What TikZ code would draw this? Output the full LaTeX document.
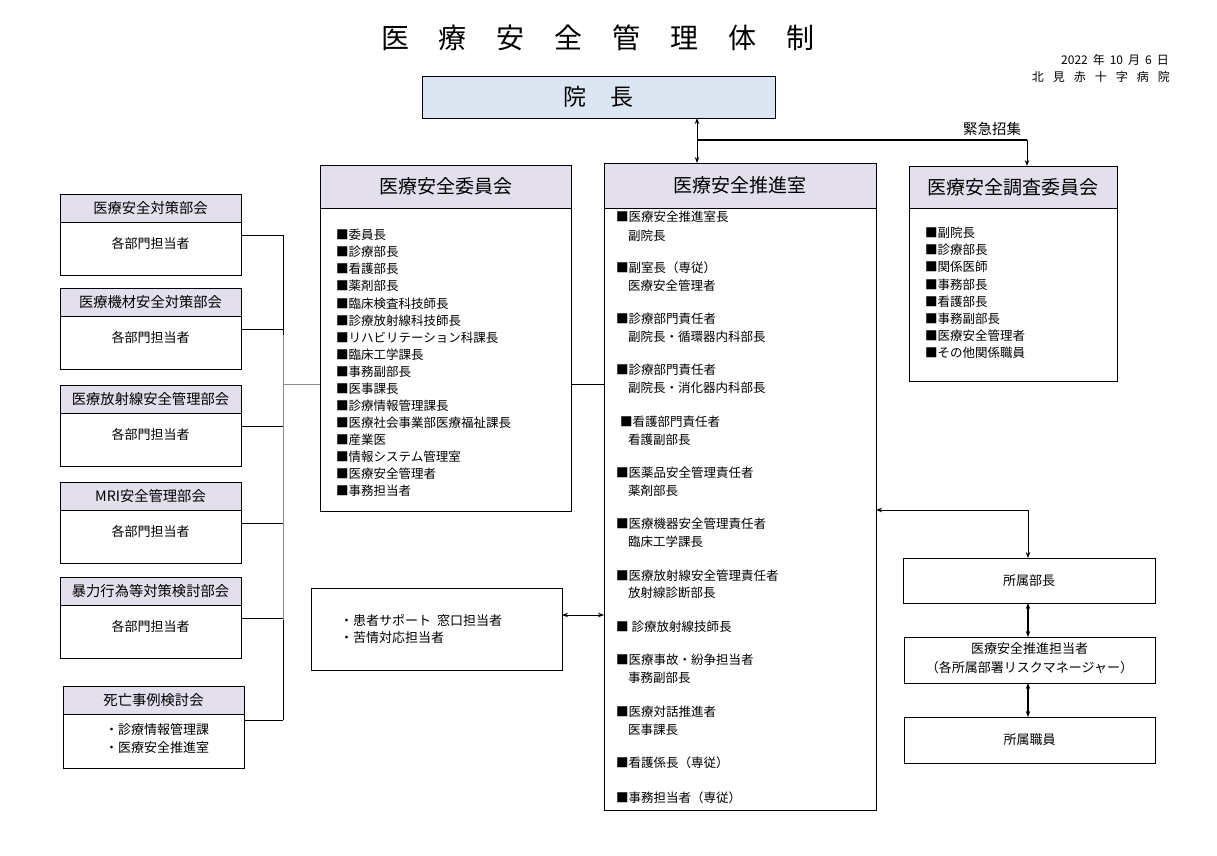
\documentclass[tikz,border=0pt]{standalone}
\usepackage{fontspec}
\setmainfont{Noto Sans CJK JP}
\usetikzlibrary{arrows.meta}
\definecolor{hdrc}{HTML}{E4DFEC}
\definecolor{inchoc}{HTML}{DCE6F2}
\definecolor{busgray}{HTML}{8C8C8C}
\begin{document}
\begin{tikzpicture}[x=1pt,y=-1pt,>={Stealth[length=6pt,width=4.5pt]}]
\tikzset{
 box/.style={draw, line width=0.9pt, inner sep=0, outer sep=0, anchor=north west},
 hdr/.style={box, fill=hdrc},
 txt/.style={inner sep=0},
 fA/.style={font=\fontsize{28}{28}\selectfont, text height=24.64pt, text depth=3.36pt},
 fB/.style={font=\fontsize{23}{23}\selectfont, text height=20.24pt, text depth=2.76pt},
 hfont/.style={font=\fontsize{19}{19}\selectfont, text height=16.72pt, text depth=2.28pt},
 fK/.style={font=\fontsize{14.5}{14.5}\selectfont, text height=12.76pt, text depth=1.74pt},
 sfont/.style={font=\fontsize{14.3}{14.3}\selectfont, text height=12.58pt, text depth=1.72pt},
 bfont/.style={font=\fontsize{13}{13}\selectfont, text height=11.44pt, text depth=1.56pt},
 fD/.style={font=\fontsize{12}{12}\selectfont, text height=10.56pt, text depth=1.44pt},
 lst/.style={txt, anchor=west, font=\fontsize{12.5}{15}\selectfont, text height=11pt, text depth=1.5pt},
 conn/.style={line width=0.8pt},
}
\fill[white] (0,0) rectangle (1217,855);
\useasboundingbox (0,0) rectangle (1217,855);

% title
\foreach \c [count=\i from 0] in {医,療,安,全,管,理,体,制}
  \node[txt, fA] (title\i) at ({395+57.9*\i},38) {\c};

% date
\node[txt, anchor=east, fD] (date) at (1169,60) {2022\hspace{5pt}年\hspace{5pt}10\hspace{5pt}月\hspace{5pt}6\hspace{5pt}日};
\node[txt, anchor=east, fD] (hosp) at (1170,77) {北\hspace{9pt}見\hspace{9pt}赤\hspace{9pt}十\hspace{9pt}字\hspace{9pt}病\hspace{9pt}院};

% 院長
\node[box, fill=inchoc, minimum width=353, minimum height=42, fB] (incho) at (422,76) {院\hspace{24pt}長};

% 医療安全委員会
\node[box, minimum width=251, minimum height=346] (iinkai) at (320,165) {};
\node[hdr, minimum width=251, minimum height=43, hfont] (iinkaih) at (320,165) {医療安全委員会};
\foreach \t [count=\i from 0] in {委員長,診療部長,看護部長,薬剤部長,臨床検査科技師長,診療放射線科技師長,リハビリテーション科課長,臨床工学課長,事務副部長,医事課長,診療情報管理課長,医療社会事業部医療福祉課長,産業医,情報システム管理室,医療安全管理者,事務担当者}
  \node[lst] (ii\i) at (336,{235+17.07*\i}) {■\t};

% 医療安全推進室
\node[box, minimum width=272, minimum height=647] (suishin) at (604,163) {};
\node[hdr, minimum width=272, minimum height=45, hfont] (suishinh) at (604,163) {医療安全推進室};
\foreach \x/\y/\t [count=\i] in {616/217/■医療安全推進室長, 628/236/副院長,
  616/268/■副室長（専従）, 628/286/医療安全管理者,
  616/319/■診療部門責任者, 628/337/副院長・循環器内科部長,
  616/370/■診療部門責任者, 628/388/副院長・消化器内科部長,
  620/422/■看護部門責任者, 628/440/看護副部長,
  616/473/■医薬品安全管理責任者, 628/491/薬剤部長,
  616/524/■医療機器安全管理責任者, 628/542/臨床工学課長,
  616/576/■医療放射線安全管理責任者, 628/593/放射線診断部長,
  616/627/■ 診療放射線技師長,
  616/660/■医療事故・紛争担当者, 628/678/事務副部長,
  616/712/■医療対話推進者, 628/730/医事課長,
  616/763/■看護係長（専従）,
  616/798/■事務担当者（専従）}
  \node[lst] (si\i) at (\x,\y) {\t};

% 医療安全調査委員会
\node[box, minimum width=208, minimum height=215] (chosa) at (909,166) {};
\node[hdr, minimum width=208, minimum height=42, hfont] (chosah) at (909,166) {医療安全調査委員会};
\foreach \t [count=\i from 0] in {副院長,診療部長,関係医師,事務部長,看護部長,事務副部長,医療安全管理者,その他関係職員}
  \node[lst] (ci\i) at (925,{233+17.1*\i}) {■\t};

% left boxes
\foreach \y/\t/\n in {194/医療安全対策部会/1, 288/医療機材安全対策部会/2, 385/医療放射線安全管理部会/3, 482/MRI安全管理部会/4, 577/暴力行為等対策検討部会/5}{
  \node[box, minimum width=181, minimum height=81] (L\n) at (60,\y) {};
  \node[hdr, minimum width=181, minimum height=28, sfont] (L\n h) at (60,\y) {\t};
  \node[txt, bfont] (L\n b) at (150.5,{\y+50}) {各部門担当者};
  \coordinate (bus\n) at (283,{\y+41});
  \draw[conn] (L\n.east |- bus\n) -- (bus\n);
}
\node[box, minimum width=181, minimum height=82] (L6) at (63,686) {};
\node[hdr, minimum width=181, minimum height=28, sfont] (L6h) at (63,686) {死亡事例検討会};
\node[txt, bfont, anchor=west] (L6a) at (105,730) {・診療情報管理課};
\node[txt, bfont, anchor=west] (L6b) at (105,748) {・医療安全推進室};
\coordinate (bus6) at (283,720);
\draw[conn] (L6.east |- bus6) -- (bus6);

% bus
\coordinate (busm1) at (283,335);
\coordinate (busm2) at (283,620);
\coordinate (busc) at (283,384);
\draw[conn] (bus1) -- (busm1);
\draw[conn, busgray] (busm1) -- (busm2);
\draw[conn] (busm2) -- (bus6);
\draw[conn, busgray] (busc) -- (iinkai.west |- busc);
\draw[conn] (iinkai.east |- busc) -- (suishin.west |- busc);

% patient support
\node[box, minimum width=251, minimum height=82] (kanja) at (311,588) {};
\node[txt, bfont, anchor=west] (kanja1) at (340,621) {・患者サポート\hspace{6pt}窓口担当者};
\node[txt, bfont, anchor=west] (kanja2) at (340,638) {・苦情対応担当者};
\coordinate (kj) at (0,615);
\draw[conn, <->] (kanja.east |- kj) -- (suishin.west |- kj);

% top connectors
\coordinate (jn) at (697,140);
\coordinate (cj) at (1027,140);
\draw[line width=1pt, <->] (incho.south -| jn) -- (suishin.north -| jn);
\draw[line width=1.6pt] (jn) -- (cj);
\draw[line width=1pt, ->] (cj) -- (chosa.north -| cj);
\node[txt, fK] (kinkyu) at (992,129) {緊急招集};

% right side
\node[box, minimum width=252, minimum height=45, bfont] (bucho) at (903,558) {所属部長};
\node[box, minimum width=251, minimum height=46] (tanto) at (904,637) {};
\node[txt, bfont] (tanto1) at (1029.5,649) {医療安全推進担当者};
\node[txt, bfont] (tanto2) at (1029.5,668) {（各所属部署リスクマネージャー）};
\node[box, minimum width=251, minimum height=46, bfont] (shokuin) at (904,717) {所属職員};
\coordinate (rj) at (1028,510);
\draw[line width=1pt, <->] (suishin.east |- rj) -- (rj) -- (bucho.north -| rj);
\draw[line width=1.2pt, <->] (bucho.south -| rj) -- (tanto.north -| rj);
\draw[line width=1.2pt, <->] (tanto.south -| rj) -- (shokuin.north -| rj);
\end{tikzpicture}
\end{document}
